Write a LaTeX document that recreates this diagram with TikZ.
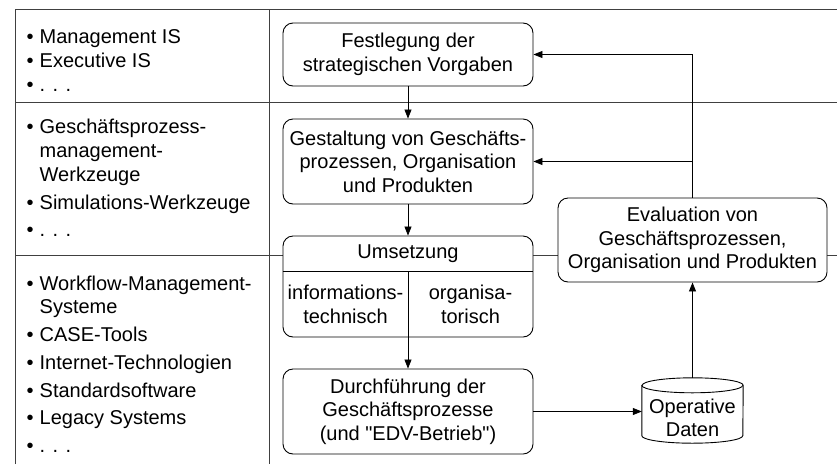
\documentclass[tikz,border=0pt]{standalone}
\usepackage{fontspec}
\setmainfont{Liberation Sans}[Ligatures=TeXOff]
\usetikzlibrary{arrows.meta,calc}
\newcommand\dgfont{\fontsize{20}{23.5}\selectfont}
\newcommand\bul{\makebox[13pt][l]{•}}
\newcommand\ind{\hspace*{13pt}}
\begin{document}
\begin{tikzpicture}[x=1pt,y=-1pt,
  frame/.style={draw=black!75, line width=1pt},
  proc/.style={draw=black, line width=0.9pt, rounded corners=10pt, fill=white,
    minimum width=250pt, align=center, font=\dgfont, inner sep=0pt},
  plain/.style={align=center, font=\dgfont, inner sep=0pt},
  flow/.style={draw=black, line width=0.8pt, -{Triangle[length=9pt,width=7pt]}},
  itm/.style={anchor=base west, inner sep=0pt, font=\dgfont},
  cyl/.style={draw=black, line width=0.9pt, fill=white},
]
\useasboundingbox (0,0) rectangle (837,464);

% swim-lane frame
\draw[frame] (15,464) -- (15,9) -- (837,9);
\draw[frame] (269,9) -- (269,464);
\draw[frame] (15,102) -- (837,102);
\draw[frame] (15,255) -- (837,255);

% tool lists
\node[itm] (l1a) at (26.5,43) {\bul Management IS};
\node[itm] (l1b) at (26.5,67) {\bul Executive IS};
\node[itm] (l1c) at (26.5,91) {\bul . . .};

\node[itm] (l2a) at (26.5,133) {\bul Geschäftsprozess-};
\node[itm] (l2b) at (26.5,157) {\ind management-};
\node[itm] (l2c) at (26.5,181) {\ind Werkzeuge};
\node[itm] (l2d) at (26.5,209) {\bul Simulations-Werkzeuge};
\node[itm] (l2e) at (26.5,236) {\bul . . .};

\node[itm] (l3a) at (26.5,290) {\bul Workflow-Management-};
\node[itm] (l3b) at (26.5,313) {\ind Systeme};
\node[itm] (l3c) at (26.5,341) {\bul CASE-Tools};
\node[itm] (l3d) at (26.5,369) {\bul Internet-Technologien};
\node[itm] (l3e) at (26.5,397) {\bul Standardsoftware};
\node[itm] (l3f) at (26.5,424) {\bul Legacy Systems};
\node[itm] (l3g) at (26.5,452) {\bul . . .};

% process steps
\node[proc, minimum height=63pt] (fest) at (408,54.5) {Festlegung der\\strategischen Vorgaben};
\node[proc, minimum height=85pt] (gest) at (408,161.5) {Gestaltung von Geschäfts-\\prozessen, Organisation\\und Produkten};
\node[proc, minimum height=101pt] (ums) at (408,286.5) {};
\coordinate (umsL) at ($(ums.north west)+(0,36)$);
\coordinate (umsR) at ($(ums.north east)+(0,36)$);
\coordinate (umsM) at ($(ums.north)+(0,36)$);
\draw[line width=0.9pt] (umsL) -- (umsR);
\draw[line width=0.9pt] (umsM) -- (ums.south);
\node[plain] (umstitle) at ($(ums.north)+(0,18)$) {Umsetzung};
\node[plain] (umsit) at (345.5,304.5) {informations-\\technisch};
\node[plain] (umsorg) at (470.5,304.5) {organisa-\\torisch};
\node[proc, minimum height=85pt] (dur) at (408,411.5) {Durchführung der\\Geschäftsprozesse\\(und "EDV-Betrieb")};
\node[proc, minimum width=269pt, minimum height=84pt] (ev) at (692.5,240) {Evaluation von\\Geschäftsprozessen,\\Organisation und Produkten};

% data store
\node[minimum width=101pt, minimum height=65pt, inner sep=0pt] (db) at (692.5,410.5) {};
\draw[cyl] ($(db.north west)+(0,7.5)$) -- ($(db.south west)+(0,-7.5)$)
  arc[start angle=180, end angle=0, x radius=50.5, y radius=7.5]
  -- ($(db.north east)+(0,7.5)$)
  arc[start angle=0, end angle=-180, x radius=50.5, y radius=7.5] -- cycle;
\draw[cyl, fill=none] ($(db.north west)+(0,7.5)$)
  arc[start angle=180, end angle=0, x radius=50.5, y radius=7.5];
\node[plain] (dbtext) at (692.5,418) {Operative\\Daten};

% control flow
\draw[flow] (fest.south) -- (gest.north);
\draw[flow] (gest.south) -- (ums.north);
\draw[flow] (ums.south) -- (dur.north);
\draw[flow] (dur.east) -- (dur.east -| db.west);
\draw[flow] (db.north) -- (ev.south);
\draw[flow] (ev.north) |- (fest.east);
\draw[flow] (ev.north |- gest.east) -- (gest.east);
\end{tikzpicture}
\end{document}
